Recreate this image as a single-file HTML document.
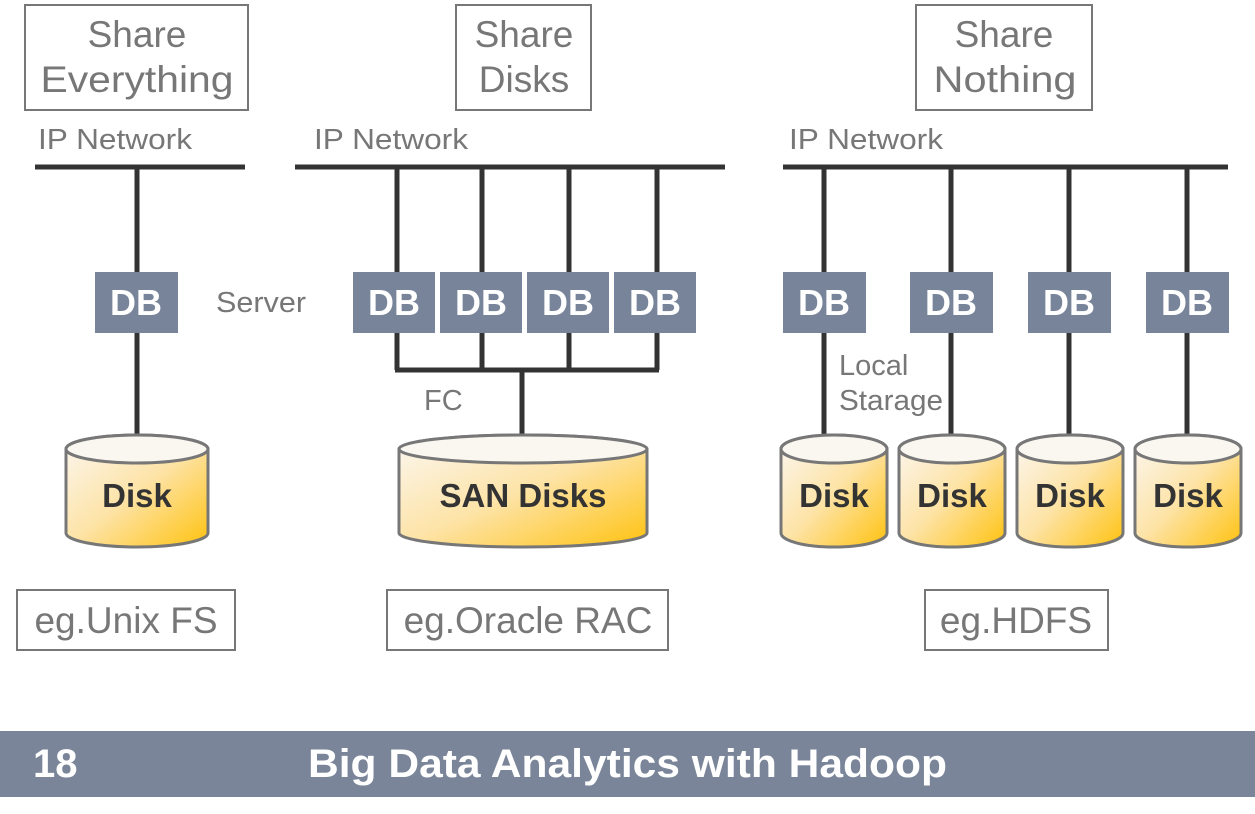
<!DOCTYPE html>
<html><head><style>
body{margin:0;background:#fff;}
svg{display:block;font-family:"Liberation Sans",sans-serif;}
</style></head><body>
<svg width="1255" height="814" viewBox="0 0 1255 814" xmlns="http://www.w3.org/2000/svg">
<defs>
<linearGradient id="g" x1="0" y1="0" x2="1" y2="1">
<stop offset="0" stop-color="#fbf7f2"/><stop offset="0.5" stop-color="#fde3a6"/><stop offset="1" stop-color="#ffc20e"/>
</linearGradient>
</defs>
<g fill="none" stroke="#777" stroke-width="2">
<rect x="25" y="5" width="223" height="105"/>
<rect x="456" y="5" width="135" height="105"/>
<rect x="916" y="5" width="176" height="105"/>
<rect x="17" y="590" width="218" height="60"/>
<rect x="387" y="590" width="281" height="60"/>
<rect x="925" y="590" width="183" height="60"/>
</g>
<g fill="#777" font-size="37" text-anchor="middle">
<text x="137" y="47">Share</text><text x="137" y="92" textLength="193" lengthAdjust="spacingAndGlyphs">Everything</text>
<text x="524" y="47">Share</text><text x="524" y="92">Disks</text>
<text x="1004" y="47">Share</text><text x="1005" y="92" textLength="143" lengthAdjust="spacingAndGlyphs">Nothing</text>
<text x="126" y="633">eg.Unix FS</text>
<text x="528" y="633">eg.Oracle RAC</text>
<text x="1016" y="633">eg.HDFS</text>
</g>
<g fill="#777" font-size="29">
<text x="38" y="149" textLength="154" lengthAdjust="spacingAndGlyphs">IP Network</text>
<text x="314" y="149" textLength="154" lengthAdjust="spacingAndGlyphs">IP Network</text>
<text x="789" y="149" textLength="154" lengthAdjust="spacingAndGlyphs">IP Network</text>
<text x="216" y="312" textLength="90" lengthAdjust="spacingAndGlyphs">Server</text>
<text x="424" y="410">FC</text>
<text x="839" y="375">Local</text>
<text x="839" y="410" textLength="104" lengthAdjust="spacingAndGlyphs">Starage</text>
</g>
<g stroke="#333" stroke-width="5" fill="none">
<line x1="35" y1="167" x2="245" y2="167"/>
<line x1="295" y1="167" x2="725" y2="167"/>
<line x1="783" y1="167" x2="1228" y2="167"/>
<line x1="137" y1="167" x2="137" y2="440"/>
<line x1="397" y1="167" x2="397" y2="370"/>
<line x1="482" y1="167" x2="482" y2="370"/>
<line x1="569" y1="167" x2="569" y2="370"/>
<line x1="657" y1="167" x2="657" y2="370"/>
<line x1="395" y1="370" x2="659" y2="370"/>
<line x1="522" y1="370" x2="522" y2="440"/>
<line x1="824" y1="167" x2="824" y2="440"/>
<line x1="951" y1="167" x2="951" y2="440"/>
<line x1="1069" y1="167" x2="1069" y2="440"/>
<line x1="1187" y1="167" x2="1187" y2="440"/>
</g>
<g fill="#77849a">
<rect x="95" y="272" width="83" height="61"/>
<rect x="353" y="272" width="82" height="61"/>
<rect x="440" y="272" width="82" height="61"/>
<rect x="527" y="272" width="82" height="61"/>
<rect x="614" y="272" width="82" height="61"/>
<rect x="783" y="272" width="83" height="61"/>
<rect x="910" y="272" width="83" height="61"/>
<rect x="1028" y="272" width="83" height="61"/>
<rect x="1146" y="272" width="83" height="61"/>
</g>
<g fill="#fff" font-size="36" font-weight="bold" text-anchor="middle">
<text x="136" y="315">DB</text>
<text x="394" y="315">DB</text><text x="481" y="315">DB</text><text x="568" y="315">DB</text><text x="655" y="315">DB</text>
<text x="824" y="315">DB</text><text x="951" y="315">DB</text><text x="1069" y="315">DB</text><text x="1187" y="315">DB</text>
</g>
<g stroke="#777" stroke-width="3">
<path d="M66 449 V533 A71 14 0 0 0 208 533 V449 A71 14 0 0 0 66 449 Z" fill="url(#g)"/>
<ellipse cx="137" cy="449" rx="71" ry="14" fill="#faf6f0"/>
<path d="M399 449 V533 A124 14 0 0 0 647 533 V449 A124 14 0 0 0 399 449 Z" fill="url(#g)"/>
<ellipse cx="523" cy="449" rx="124" ry="14" fill="#faf6f0"/>
<path d="M781 449 V533 A53 14 0 0 0 887 533 V449 A53 14 0 0 0 781 449 Z" fill="url(#g)"/>
<ellipse cx="834" cy="449" rx="53" ry="14" fill="#faf6f0"/>
<path d="M899 449 V533 A53 14 0 0 0 1005 533 V449 A53 14 0 0 0 899 449 Z" fill="url(#g)"/>
<ellipse cx="952" cy="449" rx="53" ry="14" fill="#faf6f0"/>
<path d="M1017 449 V533 A53 14 0 0 0 1123 533 V449 A53 14 0 0 0 1017 449 Z" fill="url(#g)"/>
<ellipse cx="1070" cy="449" rx="53" ry="14" fill="#faf6f0"/>
<path d="M1135 449 V533 A53 14 0 0 0 1241 533 V449 A53 14 0 0 0 1135 449 Z" fill="url(#g)"/>
<ellipse cx="1188" cy="449" rx="53" ry="14" fill="#faf6f0"/>
</g>
<g fill="#333" font-size="33" font-weight="bold" text-anchor="middle">
<text x="137" y="507">Disk</text>
<text x="523" y="507">SAN Disks</text>
<text x="834" y="507">Disk</text><text x="952" y="507">Disk</text><text x="1070" y="507">Disk</text><text x="1188" y="507">Disk</text>
</g>
<rect x="0" y="731" width="1255" height="66" fill="#7a8599"/>
<g fill="#fff" font-size="40" font-weight="bold">
<text x="33" y="777">18</text>
<text x="308" y="777" textLength="639" lengthAdjust="spacingAndGlyphs">Big Data Analytics with Hadoop</text>
</g>
</svg>
</body></html>
